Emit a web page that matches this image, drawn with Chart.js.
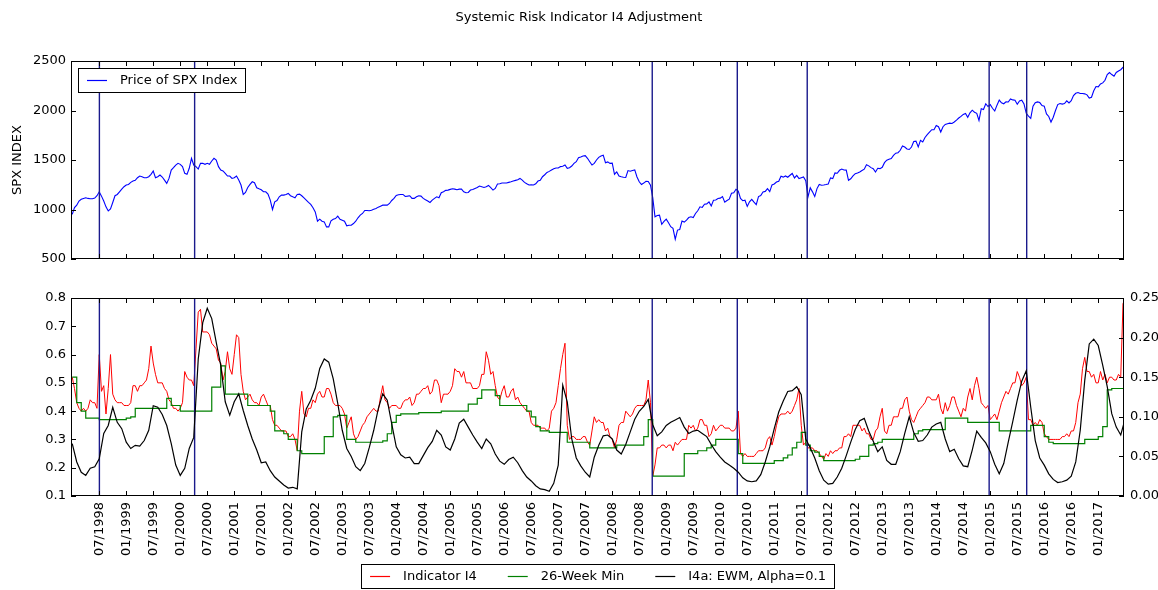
<!DOCTYPE html>
<html>
<head>
<meta charset="utf-8">
<title>Systemic Risk Indicator I4 Adjustment</title>
<script src="https://cdn.jsdelivr.net/npm/chart.js@4.4.1/dist/chart.umd.min.js"></script>
<style>
  html, body { margin: 0; padding: 0; background: #ffffff; overflow: hidden; }
  #figure { position: relative; width: 1158px; height: 590px; background: #fff; }
  #figure canvas { position: absolute; left: 0; }
  #topChart { top: 0; }
  #bottomChart { top: 275px; }
</style>
</head>
<body>
<div id="figure">
  <canvas id="topChart" width="1158" height="275" style="width:1158px;height:275px"></canvas>
  <canvas id="bottomChart" width="1158" height="315" style="width:1158px;height:315px"></canvas>
</div>
<script>
// ---------------- data ----------------
// first observation = start of Jan 1998; SPX and Indicator I4 are read twice a month,
// the 26-week minimum and the EWM line once a month.
const firstMonth = '1998-01';
const halfMonthly = 24;   // observations per year
const monthly = 12;

const xTickLabels = ['07/1998','01/1999','07/1999','01/2000','07/2000','01/2001','07/2001','01/2002',
  '07/2002','01/2003','07/2003','01/2004','07/2004','01/2005','07/2005','01/2006','07/2006','01/2007',
  '07/2007','01/2008','07/2008','01/2009','07/2009','01/2010','07/2010','01/2011','07/2011','01/2012',
  '07/2012','01/2013','07/2013','01/2014','07/2014','01/2015','07/2015','01/2016','07/2016','01/2017'];

const xLimits = ['1997-12-23', '2017-06-23'];

const signalDates = ['1998-07-02','2000-04-07','2008-09-28','2010-04-25','2011-08-11','2014-12-24','2015-09-04'];

// SPX price, twice a month
const spxPrice = [
  950, 1020, 1044, 1085, 1104, 1112, 1118, 1112, 1108, 1108, 1115, 1139, 1179, 1135, 1085, 1027, 985, 1005, 1071, 1139, 1152, 1179, 1206, 1230,
  1247, 1253, 1274, 1287, 1294, 1321, 1338, 1331, 1321, 1321, 1331, 1355, 1389, 1321, 1331, 1348, 1328, 1297, 1264, 1314, 1399, 1422, 1449, 1466,
  1456, 1433, 1365, 1355, 1416, 1517, 1449, 1433, 1409, 1466, 1466, 1456, 1466, 1456, 1490, 1517, 1500, 1433, 1399, 1389, 1365, 1338, 1338, 1314,
  1321, 1338, 1297, 1247, 1152, 1172, 1223, 1253, 1280, 1270, 1220, 1209, 1199, 1179, 1179, 1155, 1095, 1000, 1078, 1091, 1128, 1145, 1145, 1152,
  1162, 1139, 1128, 1118, 1152, 1155, 1139, 1118, 1095, 1071, 1051, 1017, 976, 882, 902, 882, 875, 824, 824, 885, 902, 909, 933, 902,
  892, 882, 835, 841, 841, 858, 882, 916, 943, 960, 990, 990, 987, 993, 1003, 1010, 1024, 1034, 1044, 1044, 1044, 1061, 1091, 1112,
  1142, 1149, 1152, 1152, 1132, 1135, 1139, 1112, 1112, 1128, 1139, 1135, 1112, 1098, 1085, 1071, 1095, 1112, 1128, 1118, 1169, 1179, 1193, 1196,
  1203, 1209, 1206, 1199, 1206, 1206, 1179, 1169, 1172, 1196, 1203, 1213, 1223, 1237, 1230, 1223, 1230, 1243, 1220, 1196, 1213, 1257, 1260, 1267,
  1267, 1267, 1274, 1280, 1287, 1294, 1301, 1314, 1297, 1274, 1260, 1247, 1250, 1247, 1260, 1287, 1294, 1331, 1351, 1375, 1385, 1399, 1412, 1419,
  1419, 1433, 1436, 1449, 1416, 1422, 1439, 1466, 1483, 1524, 1531, 1541, 1544, 1517, 1483, 1449, 1466, 1500, 1527, 1540, 1549, 1473, 1481, 1466,
  1468, 1356, 1379, 1339, 1331, 1325, 1323, 1393, 1386, 1393, 1400, 1329, 1280, 1252, 1267, 1285, 1283, 1245, 1120, 926, 940, 943, 850, 879,
  903, 866, 826, 809, 700, 792, 798, 883, 873, 893, 919, 926, 919, 960, 987, 1027, 1021, 1054, 1057, 1077, 1036, 1094, 1096, 1111,
  1115, 1131, 1074, 1091, 1104, 1164, 1169, 1205, 1187, 1111, 1089, 1094, 1031, 1077, 1102, 1074, 1049, 1131, 1141, 1178, 1183, 1211, 1181, 1248,
  1258, 1278, 1286, 1336, 1327, 1339, 1326, 1346, 1364, 1319, 1345, 1312, 1321, 1329, 1292, 1128, 1219, 1178, 1131, 1211, 1253, 1245, 1247, 1252,
  1258, 1319, 1312, 1369, 1366, 1396, 1408, 1399, 1398, 1295, 1310, 1339, 1362, 1369, 1379, 1393, 1407, 1453, 1441, 1423, 1412, 1379, 1416, 1413,
  1426, 1473, 1498, 1507, 1515, 1547, 1569, 1574, 1598, 1641, 1631, 1611, 1606, 1631, 1686, 1691, 1633, 1698, 1682, 1728, 1757, 1782, 1806, 1805,
  1848, 1836, 1783, 1836, 1859, 1866, 1872, 1869, 1884, 1903, 1924, 1940, 1960, 1970, 1931, 1977, 2003, 1983, 1972, 1900, 2018, 2010, 2068, 2040,
  2059, 2023, 1995, 2054, 2105, 2077, 2068, 2087, 2086, 2117, 2107, 2104, 2063, 2097, 2104, 2067, 1972, 1943, 1920, 2044, 2079, 2087, 2080, 2050,
  2044, 1966, 1940, 1883, 1932, 2000, 2060, 2070, 2065, 2070, 2097, 2077, 2099, 2151, 2174, 2181, 2171, 2171, 2168, 2158, 2126, 2134, 2199, 2242,
  2239, 2268, 2279, 2305, 2364, 2383, 2363, 2346, 2384, 2399, 2412, 2436, 2435
];

// Indicator I4, twice a month
const indicatorI4 = [
  0.52, 0.48, 0.43, 0.41, 0.40, 0.41, 0.40, 0.41, 0.44, 0.43, 0.43, 0.41, 0.60, 0.47, 0.49, 0.39, 0.48, 0.60, 0.46, 0.44, 0.43, 0.43, 0.43, 0.42,
  0.42, 0.42, 0.43, 0.49, 0.49, 0.47, 0.49, 0.49, 0.50, 0.51, 0.55, 0.63, 0.57, 0.53, 0.50, 0.50, 0.50, 0.48, 0.47, 0.44, 0.43, 0.41, 0.41, 0.40,
  0.41, 0.43, 0.54, 0.52, 0.51, 0.51, 0.49, 0.62, 0.75, 0.76, 0.68, 0.68, 0.68, 0.67, 0.64, 0.63, 0.62, 0.58, 0.57, 0.51, 0.54, 0.61, 0.55, 0.53,
  0.60, 0.67, 0.66, 0.53, 0.47, 0.44, 0.45, 0.46, 0.44, 0.43, 0.43, 0.42, 0.45, 0.46, 0.44, 0.42, 0.42, 0.37, 0.35, 0.35, 0.34, 0.33, 0.33, 0.33,
  0.31, 0.31, 0.32, 0.30, 0.26, 0.40, 0.47, 0.39, 0.38, 0.41, 0.41, 0.44, 0.43, 0.46, 0.47, 0.45, 0.45, 0.48, 0.48, 0.46, 0.43, 0.42, 0.42, 0.42,
  0.41, 0.39, 0.34, 0.36, 0.38, 0.32, 0.30, 0.31, 0.33, 0.35, 0.36, 0.38, 0.39, 0.40, 0.41, 0.40, 0.40, 0.45, 0.49, 0.44, 0.43, 0.41, 0.42, 0.42,
  0.42, 0.41, 0.41, 0.43, 0.44, 0.44, 0.45, 0.42, 0.43, 0.46, 0.46, 0.47, 0.48, 0.48, 0.49, 0.46, 0.47, 0.51, 0.51, 0.49, 0.43, 0.46, 0.46, 0.46,
  0.47, 0.49, 0.55, 0.54, 0.54, 0.52, 0.54, 0.50, 0.50, 0.50, 0.48, 0.48, 0.48, 0.49, 0.53, 0.53, 0.61, 0.58, 0.53, 0.54, 0.49, 0.45, 0.44, 0.47,
  0.49, 0.45, 0.45, 0.47, 0.48, 0.44, 0.45, 0.43, 0.42, 0.41, 0.40, 0.40, 0.36, 0.35, 0.35, 0.35, 0.34, 0.34, 0.34, 0.33, 0.34, 0.40, 0.41, 0.43,
  0.49, 0.55, 0.60, 0.64, 0.35, 0.30, 0.31, 0.31, 0.30, 0.30, 0.30, 0.31, 0.31, 0.29, 0.28, 0.33, 0.38, 0.36, 0.37, 0.36, 0.36, 0.33, 0.34, 0.31,
  0.30, 0.27, 0.30, 0.35, 0.36, 0.36, 0.40, 0.39, 0.38, 0.39, 0.41, 0.42, 0.42, 0.42, 0.42, 0.44, 0.51, 0.43, 0.17, 0.21, 0.27, 0.27, 0.28, 0.28,
  0.27, 0.28, 0.28, 0.26, 0.29, 0.28, 0.29, 0.30, 0.30, 0.30, 0.35, 0.34, 0.35, 0.33, 0.34, 0.37, 0.37, 0.35, 0.35, 0.31, 0.32, 0.35, 0.33, 0.34,
  0.35, 0.35, 0.34, 0.34, 0.34, 0.33, 0.33, 0.34, 0.40, 0.25, 0.24, 0.25, 0.24, 0.24, 0.24, 0.24, 0.25, 0.26, 0.26, 0.26, 0.27, 0.30, 0.31, 0.28,
  0.31, 0.35, 0.38, 0.39, 0.39, 0.39, 0.40, 0.39, 0.40, 0.42, 0.44, 0.48, 0.35, 0.28, 0.29, 0.27, 0.27, 0.27, 0.26, 0.26, 0.25, 0.24, 0.23, 0.25,
  0.24, 0.26, 0.25, 0.26, 0.26, 0.27, 0.27, 0.31, 0.31, 0.32, 0.31, 0.35, 0.35, 0.35, 0.35, 0.33, 0.34, 0.32, 0.32, 0.30, 0.30, 0.33, 0.34, 0.38,
  0.41, 0.33, 0.32, 0.35, 0.35, 0.38, 0.38, 0.38, 0.41, 0.41, 0.44, 0.45, 0.40, 0.37, 0.36, 0.38, 0.40, 0.41, 0.42, 0.43, 0.45, 0.45, 0.44, 0.44,
  0.44, 0.46, 0.41, 0.39, 0.43, 0.40, 0.42, 0.45, 0.45, 0.42, 0.40, 0.38, 0.41, 0.40, 0.45, 0.48, 0.44, 0.49, 0.52, 0.48, 0.43, 0.42, 0.41, 0.42,
  0.37, 0.38, 0.39, 0.37, 0.40, 0.43, 0.45, 0.47, 0.46, 0.48, 0.50, 0.50, 0.54, 0.52, 0.49, 0.50, 0.52, 0.37, 0.37, 0.35, 0.36, 0.35, 0.37, 0.36,
  0.32, 0.31, 0.30, 0.30, 0.30, 0.30, 0.30, 0.30, 0.31, 0.31, 0.32, 0.31, 0.33, 0.33, 0.36, 0.43, 0.46, 0.55, 0.59, 0.54, 0.54, 0.52, 0.53, 0.50,
  0.50, 0.54, 0.51, 0.53, 0.50, 0.52, 0.52, 0.51, 0.51, 0.53, 0.52, 0.78, 0.80
];

// 26-week minimum of I4, monthly
const min26Week = [
  0.52, 0.43, 0.40, 0.375, 0.375, 0.375, 0.37, 0.37, 0.37, 0.37, 0.37, 0.37,
  0.375, 0.38, 0.41, 0.41, 0.41, 0.41, 0.41, 0.41, 0.41, 0.445, 0.42, 0.42,
  0.40, 0.40, 0.40, 0.40, 0.40, 0.40, 0.40, 0.485, 0.485, 0.56, 0.46, 0.46,
  0.46, 0.46, 0.46, 0.42, 0.42, 0.42, 0.42, 0.42, 0.40, 0.33, 0.33, 0.32,
  0.30, 0.30, 0.26, 0.25, 0.25, 0.25, 0.25, 0.25, 0.31, 0.31, 0.38, 0.385,
  0.385, 0.30, 0.30, 0.29, 0.29, 0.29, 0.29, 0.29, 0.29, 0.295, 0.32, 0.36,
  0.385, 0.39, 0.39, 0.39, 0.39, 0.395, 0.395, 0.395, 0.395, 0.395, 0.40, 0.40,
  0.40, 0.40, 0.40, 0.40, 0.425, 0.425, 0.445, 0.475, 0.475, 0.475, 0.455, 0.42,
  0.42, 0.42, 0.42, 0.42, 0.42, 0.40, 0.38, 0.345, 0.33, 0.33, 0.325, 0.325,
  0.325, 0.325, 0.29, 0.29, 0.29, 0.29, 0.29, 0.27, 0.27, 0.27, 0.27, 0.27,
  0.27, 0.28, 0.28, 0.28, 0.28, 0.28, 0.28, 0.31, 0.37, 0.17, 0.17, 0.17,
  0.17, 0.17, 0.17, 0.17, 0.25, 0.25, 0.25, 0.26, 0.26, 0.27, 0.28, 0.30,
  0.30, 0.30, 0.30, 0.30, 0.25, 0.215, 0.215, 0.215, 0.215, 0.215, 0.215, 0.215,
  0.225, 0.225, 0.235, 0.245, 0.27, 0.29, 0.325, 0.28, 0.26, 0.255, 0.24, 0.225,
  0.225, 0.225, 0.225, 0.225, 0.225, 0.225, 0.23, 0.24, 0.24, 0.28, 0.285, 0.29,
  0.30, 0.30, 0.30, 0.30, 0.30, 0.30, 0.30, 0.32, 0.33, 0.335, 0.335, 0.335,
  0.335, 0.335, 0.375, 0.375, 0.375, 0.375, 0.375, 0.36, 0.36, 0.36, 0.36, 0.36,
  0.36, 0.36, 0.33, 0.33, 0.33, 0.33, 0.33, 0.33, 0.33, 0.35, 0.35, 0.35,
  0.31, 0.29, 0.285, 0.285, 0.285, 0.285, 0.285, 0.285, 0.285, 0.30, 0.30, 0.30,
  0.31, 0.345, 0.475, 0.48, 0.48, 0.48, 0.48
];

// I4a: EWM (alpha = 0.1), right-hand axis, monthly
const ewmAlpha01 = [
  0.066, 0.043, 0.030, 0.026, 0.035, 0.037, 0.047, 0.079, 0.089, 0.112, 0.093, 0.085,
  0.068, 0.060, 0.064, 0.063, 0.070, 0.083, 0.114, 0.112, 0.103, 0.089, 0.066, 0.039,
  0.026, 0.035, 0.060, 0.074, 0.173, 0.219, 0.237, 0.224, 0.194, 0.165, 0.119, 0.102,
  0.119, 0.129, 0.108, 0.089, 0.072, 0.058, 0.042, 0.043, 0.032, 0.024, 0.019, 0.014,
  0.010, 0.011, 0.009, 0.081, 0.110, 0.121, 0.136, 0.161, 0.173, 0.169, 0.148, 0.117,
  0.083, 0.060, 0.050, 0.037, 0.032, 0.041, 0.061, 0.083, 0.110, 0.129, 0.121, 0.091,
  0.062, 0.052, 0.048, 0.049, 0.041, 0.041, 0.051, 0.061, 0.069, 0.083, 0.077, 0.062,
  0.058, 0.072, 0.092, 0.097, 0.087, 0.077, 0.068, 0.060, 0.072, 0.066, 0.053, 0.044,
  0.040, 0.046, 0.049, 0.042, 0.032, 0.024, 0.019, 0.013, 0.009, 0.008, 0.006, 0.016,
  0.039, 0.140, 0.119, 0.072, 0.048, 0.038, 0.030, 0.024, 0.049, 0.064, 0.076, 0.077,
  0.072, 0.058, 0.053, 0.065, 0.081, 0.097, 0.107, 0.113, 0.122, 0.090, 0.076, 0.081,
  0.089, 0.093, 0.096, 0.099, 0.087, 0.079, 0.082, 0.083, 0.079, 0.075, 0.065, 0.056,
  0.049, 0.043, 0.039, 0.035, 0.030, 0.023, 0.019, 0.018, 0.019, 0.027, 0.043, 0.062,
  0.085, 0.106, 0.120, 0.132, 0.133, 0.138, 0.128, 0.072, 0.061, 0.048, 0.032, 0.020,
  0.015, 0.016, 0.024, 0.035, 0.051, 0.068, 0.084, 0.095, 0.098, 0.082, 0.069, 0.056,
  0.062, 0.045, 0.040, 0.040, 0.056, 0.079, 0.100, 0.080, 0.069, 0.070, 0.077, 0.087,
  0.091, 0.093, 0.072, 0.056, 0.059, 0.047, 0.038, 0.037, 0.058, 0.082, 0.074, 0.067,
  0.056, 0.040, 0.028, 0.041, 0.068, 0.094, 0.121, 0.145, 0.158, 0.112, 0.070, 0.048,
  0.039, 0.028, 0.021, 0.017, 0.018, 0.020, 0.025, 0.043, 0.083, 0.146, 0.192, 0.198,
  0.190, 0.165, 0.138, 0.104, 0.087, 0.077, 0.098
];

// ---------------- helpers ----------------
function dateToYear(s) {
  const p = s.split('-').map(Number);
  return p[0] + (p[1] - 1) / 12 + ((p[2] || 1) - 1) / 365;
}
function tickToYear(lbl) {
  const p = lbl.split('/').map(Number);
  return p[1] + (p[0] - 1) / 12;
}
const startYear = dateToYear(firstMonth);
const toPoints = (arr, perYear) => arr.map((v, i) => ({ x: startYear + i / perYear, y: v }));
const xMin = dateToYear(xLimits[0]);
const xMax = dateToYear(xLimits[1]);
const xTickValues = xTickLabels.map(tickToYear);

Chart.defaults.font.family = '"DejaVu Sans", sans-serif';
Chart.defaults.font.size = 13;
Chart.defaults.color = '#000';

// ---------------- matplotlib-like frame, signal lines and legend ----------------
function drawSignals(chart) {
  const { ctx, chartArea: a } = chart;
  const xs = chart.scales.x;
  ctx.save();
  ctx.beginPath();
  ctx.rect(a.left, a.top, a.right - a.left, a.bottom - a.top);
  ctx.clip();
  ctx.strokeStyle = '#1a1a8c';
  ctx.lineWidth = 1.4;
  signalDates.forEach(d => {
    const px = xs.getPixelForValue(dateToYear(d));
    ctx.beginPath();
    ctx.moveTo(px, a.top);
    ctx.lineTo(px, a.bottom);
    ctx.stroke();
  });
  ctx.restore();
}

function drawFrame(chart) {
  const { ctx, chartArea: a } = chart;
  const xs = chart.scales.x, yl = chart.scales.y, yr = chart.scales.y2;
  const L = 5;
  ctx.save();
  ctx.strokeStyle = '#000';
  ctx.lineWidth = 1;
  ctx.beginPath();
  xTickValues.forEach(v => {
    const p = Math.round(xs.getPixelForValue(v)) + 0.5;
    ctx.moveTo(p, a.bottom); ctx.lineTo(p, a.bottom - L);
    ctx.moveTo(p, a.top); ctx.lineTo(p, a.top + L);
  });
  yl.ticks.forEach(t => {
    const p = Math.round(yl.getPixelForValue(t.value)) + 0.5;
    ctx.moveTo(a.left, p); ctx.lineTo(a.left + L, p);
    if (!yr) { ctx.moveTo(a.right, p); ctx.lineTo(a.right - L, p); }
  });
  if (yr) {
    yr.ticks.forEach(t => {
      const p = Math.round(yr.getPixelForValue(t.value)) + 0.5;
      ctx.moveTo(a.right, p); ctx.lineTo(a.right - L, p);
    });
  }
  ctx.stroke();
  ctx.strokeRect(a.left + 0.5, a.top + 0.5, a.right - a.left - 1, a.bottom - a.top - 1);
  ctx.restore();
}

function drawLegend(chart, lg) {
  const { ctx, chartArea: a } = chart;
  ctx.save();
  ctx.font = '13px "DejaVu Sans", sans-serif';
  const items = chart.data.datasets.map(ds => ({
    label: ds.label, color: ds.borderColor, w: ctx.measureText(ds.label).width
  }));
  const sample = 20, gapText = 13, gapItem = 31, padL = 9, padR = 8, h = 24;
  const content = items.reduce((s, it) => s + sample + gapText + it.w, 0) + gapItem * (items.length - 1);
  const boxW = padL + content + padR;
  const left = lg.center ? (a.left + a.right) / 2 - boxW / 2 : a.left + lg.dx;
  const top = lg.top;
  ctx.fillStyle = '#ffffff';
  ctx.fillRect(left, top, boxW, h);
  ctx.strokeStyle = '#000';
  ctx.lineWidth = 1;
  ctx.strokeRect(Math.round(left) + 0.5, Math.round(top) + 0.5, Math.round(boxW), h);
  let x = left + padL;
  const cy = top + h / 2 + 0.5;
  items.forEach(it => {
    ctx.strokeStyle = it.color;
    ctx.lineWidth = 1.2;
    ctx.beginPath();
    ctx.moveTo(x, cy); ctx.lineTo(x + sample, cy);
    ctx.stroke();
    x += sample + gapText;
    ctx.fillStyle = '#000';
    ctx.textAlign = 'left';
    ctx.textBaseline = 'middle';
    ctx.fillText(it.label, x, cy);
    x += it.w + gapItem;
  });
  ctx.restore();
}

const mplPlugin = {
  id: 'mpl',
  beforeDatasetDraw(chart, args, opts) {
    if (opts.signalsBefore === args.index) drawSignals(chart);
  },
  afterDatasetsDraw(chart, args, opts) {
    if (opts.signalsBefore === undefined || opts.signalsBefore === null) drawSignals(chart);
  },
  afterDraw(chart, args, opts) {
    drawFrame(chart);
    if (opts.legend) drawLegend(chart, opts.legend);
  }
};

const noGrid = { display: false, drawTicks: false };
const noBorder = { display: false };

// ---------------- top panel: SPX price ----------------
new Chart(document.getElementById('topChart'), {
  type: 'line',
  data: {
    datasets: [{
      label: 'Price of SPX Index',
      data: toPoints(spxPrice, halfMonthly),
      borderColor: '#0000ff',
      borderWidth: 1.1,
      pointRadius: 0,
      tension: 0
    }]
  },
  options: {
    animation: false,
    responsive: false,
    events: [],
    layout: { padding: { left: 0, right: 0, top: 0, bottom: 16 } },
    plugins: {
      legend: { display: false },
      tooltip: { enabled: false },
      title: {
        display: true,
        text: 'Systemic Risk Indicator I4 Adjustment',
        color: '#000',
        font: { size: 13, weight: 'normal', lineHeight: '16px' },
        padding: { top: 10, bottom: 35 }
      },
      mpl: { legend: { dx: 7, top: 68 } }
    },
    scales: {
      x: { type: 'linear', min: xMin, max: xMax, display: false },
      y: {
        type: 'linear', min: 500, max: 2500,
        ticks: { stepSize: 500, padding: 5, color: '#000', callback: v => String(v) },
        grid: noGrid, border: noBorder,
        title: { display: true, text: 'SPX INDEX', color: '#000', font: { size: 13 }, padding: { top: 10, bottom: 0 } },
        afterFit: s => { s.width = 71; }
      },
      yMirror: {
        type: 'linear', position: 'right', min: 500, max: 2500,
        ticks: { display: false }, grid: noGrid, border: noBorder,
        afterFit: s => { s.width = 34; }
      }
    }
  },
  plugins: [mplPlugin]
});

// ---------------- bottom panel: indicator ----------------
new Chart(document.getElementById('bottomChart'), {
  type: 'line',
  data: {
    datasets: [
      { label: 'Indicator I4', data: toPoints(indicatorI4, halfMonthly), borderColor: '#ff0000', borderWidth: 1,
        pointRadius: 0, tension: 0, yAxisID: 'y', order: 2 },
      { label: '26-Week Min', data: toPoints(min26Week, monthly), borderColor: '#008000', borderWidth: 1.2,
        pointRadius: 0, stepped: true, yAxisID: 'y', order: 1 },
      { label: 'I4a: EWM, Alpha=0.1', data: toPoints(ewmAlpha01, monthly), borderColor: '#000000', borderWidth: 1.2,
        pointRadius: 0, tension: 0, yAxisID: 'y2', order: 0 }
    ]
  },
  options: {
    animation: false,
    responsive: false,
    events: [],
    layout: { padding: { left: 0, right: 0, top: 23, bottom: 0 } },
    plugins: {
      legend: { display: false },
      tooltip: { enabled: false },
      mpl: { signalsBefore: 2, legend: { center: true, top: 289 } }
    },
    scales: {
      x: {
        type: 'linear', min: xMin, max: xMax,
        afterBuildTicks: s => { s.ticks = xTickValues.map(v => ({ value: v })); },
        ticks: { autoSkip: false, minRotation: 90, maxRotation: 90, padding: 6, color: '#000',
                 callback: (v, i) => xTickLabels[i] },
        grid: noGrid, border: noBorder,
        afterFit: s => { s.height = 94; }
      },
      y: {
        type: 'linear', position: 'left', min: 0.1, max: 0.8,
        ticks: { stepSize: 0.1, padding: 5, color: '#000', callback: v => Number(v).toFixed(1) },
        grid: noGrid, border: noBorder,
        afterFit: s => { s.width = 71; }
      },
      y2: {
        type: 'linear', position: 'right', min: 0, max: 0.25,
        ticks: { stepSize: 0.05, padding: 6, color: '#000', callback: v => Number(v).toFixed(2) },
        grid: noGrid, border: noBorder,
        afterFit: s => { s.width = 34; }
      }
    }
  },
  plugins: [mplPlugin]
});
</script>
</body>
</html>
